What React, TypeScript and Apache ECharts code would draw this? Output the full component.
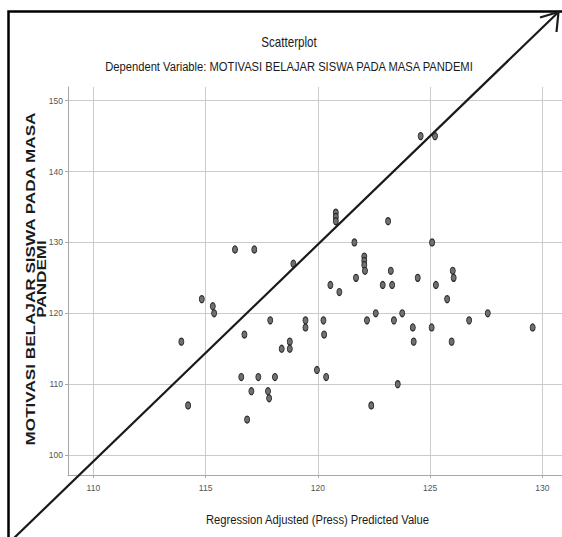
import React, { useEffect, useRef } from "react";
import * as echarts from "echarts";

// Regression Adjusted (Press) Predicted Value
const predictedValues = [
  116.31, 117.17, 118.91, 120.8, 120.8, 120.8, 120.56, 120.96, 124.58, 125.22,
  123.13, 121.63, 125.09, 122.07, 122.07, 122.07, 122.1, 121.7, 123.25, 122.89,
  123.31, 124.45, 125.26, 126.01, 126.05, 125.76, 114.83, 115.32, 115.38, 117.88,
  119.45, 119.45, 120.25, 120.28, 116.73, 113.92, 118.75, 118.75, 118.39, 116.59,
  117.35, 118.09, 119.96, 120.37, 117.04, 117.78, 117.83, 114.22, 116.85, 122.19,
  122.58, 123.39, 123.76, 124.23, 124.27, 125.07, 125.96, 126.74, 127.57, 129.57,
  123.56, 122.38,
];

// MOTIVASI BELAJAR SISWA PADA MASA PANDEMI
const motivasiValues = [
  129, 129, 127, 134.2, 133.6, 133, 124, 123, 145, 145,
  133, 130, 130, 128, 127.4, 126.8, 126, 125, 126, 124,
  124, 125, 124, 126, 125, 122, 122, 121, 120, 119,
  119, 118, 119, 117, 117, 116, 116, 115, 115, 111,
  111, 111, 112, 111, 109, 109, 108, 107, 105, 119,
  120, 119, 120, 118, 116, 118, 116, 119, 120, 118,
  110, 107,
];

const xRange = [108.87, 131.1];
const yRange = [97.18, 151.93];

const TITLE = "Scatterplot";
const SUBTITLE = "Dependent Variable: MOTIVASI BELAJAR SISWA PADA MASA PANDEMI";
const X_NAME = "Regression Adjusted (Press) Predicted Value";
const Y_NAME_LINES = ["MOTIVASI BELAJAR SISWA PADA MASA", "PANDEMI"];

const SANS = "'Liberation Sans', Arial, sans-serif";

export default function App() {
  const ref = useRef<HTMLDivElement>(null);

  useEffect(() => {
    if (!ref.current) return;
    const chart = echarts.init(ref.current, undefined, { renderer: "svg" });

    const axisCommon = {
      type: "value" as const,
      axisLine: { show: true, lineStyle: { color: "#a8a8a8", width: 1 } },
      axisTick: { show: true, length: 3, lineStyle: { color: "#a8a8a8" } },
      splitLine: {
        show: true,
        showMinLine: false,
        showMaxLine: false,
        lineStyle: { color: "#cbcbcb", width: 1 },
      },
    };

    const label = {
      showMinLabel: false,
      showMaxLabel: false,
      fontFamily: SANS,
      fontSize: 8.5,
      color: "#555",
    };

    const centeredText = (
      text: string,
      x: number,
      y: number,
      fontSize: number,
      extra: Record<string, unknown> = {},
      weight: string = "normal"
    ) => ({
      type: "text",
      x,
      y,
      silent: true,
      ...extra,
      style: {
        text,
        align: "center",
        verticalAlign: "middle",
        textAlign: "center",
        textVerticalAlign: "middle",
        fontFamily: SANS,
        fontSize,
        fontWeight: weight,
        fill: "#1a1a1a",
        lineHeight: 11,
      },
    });

    chart.setOption({
      animation: false,
      backgroundColor: "#ffffff",
      grid: {
        left: 68,
        right: -5,
        top: 87,
        bottom: 62,
        containLabel: false,
        outerBoundsMode: "none",
      },
      xAxis: {
        ...axisCommon,
        min: xRange[0],
        max: xRange[1],
        axisLabel: { ...label, margin: 8 },
      },
      yAxis: {
        ...axisCommon,
        min: yRange[0],
        max: yRange[1],
        axisLabel: { ...label, margin: 5 },
      },
      series: [
        {
          type: "scatter",
          data: predictedValues.map((x, i) => [x, motivasiValues[i]]),
          symbol: "circle",
          symbolSize: [5, 7],
          itemStyle: {
            color: "#707070",
            borderColor: "#2a2a2a",
            borderWidth: 1,
            opacity: 1,
          },
        },
      ],
      graphic: [
        {
          type: "rect",
          silent: true,
          shape: { x: 8.5, y: 11.5, width: 620, height: 620 },
          style: { fill: "none", stroke: "#000", lineWidth: 2.5 },
          z: 100,
        },
        centeredText(TITLE, 289, 42, 14, { scaleX: 0.83 }),
        centeredText(SUBTITLE, 289, 67, 13.5, { scaleX: 0.83 }),
        centeredText(X_NAME, 317.5, 520, 13.5, { scaleX: 0.83 }),
        centeredText(
          Y_NAME_LINES.join("\n"),
          35.5,
          279,
          12.5,
          { rotation: Math.PI / 2, scaleX: 1.37 },
          "bold"
        ),
        {
          type: "line",
          silent: true,
          shape: { x1: 13, y1: 539, x2: 558, y2: 12.5 },
          style: { stroke: "#1a1a1a", lineWidth: 2.2 },
          z: 101,
        },
        {
          type: "polyline",
          silent: true,
          shape: {
            points: [
              [540, 17.5],
              [558.5, 12],
              [556.5, 32],
            ],
          },
          style: { stroke: "#1a1a1a", lineWidth: 2.2, fill: "none" },
          z: 101,
        },
      ],
    });

    return () => chart.dispose();
  }, []);

  return (
    <div
      ref={ref}
      style={{ position: "fixed", left: 0, top: 0, width: 562, height: 537 }}
    />
  );
}
